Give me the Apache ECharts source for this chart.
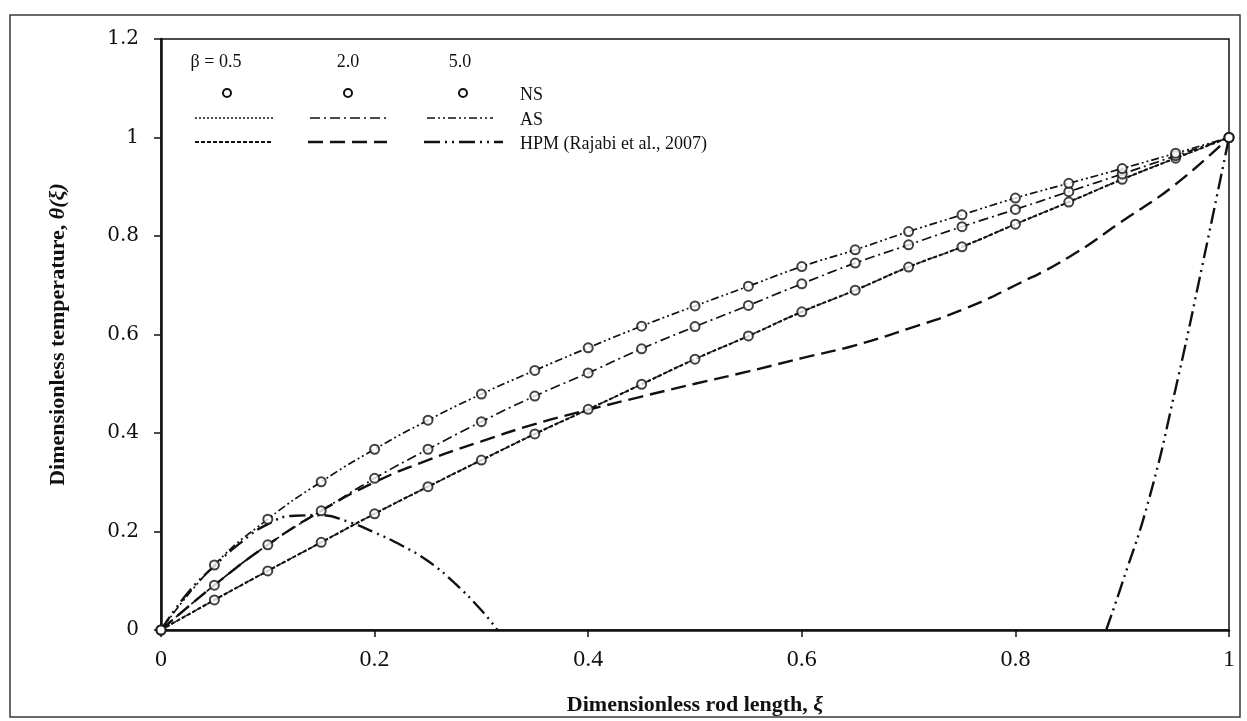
<!DOCTYPE html>
<html>
<head>
<meta charset="utf-8">
<script src="https://cdn.jsdelivr.net/npm/echarts@6/dist/echarts.min.js"></script>
<style>
  html, body { margin: 0; padding: 0; background: #ffffff; }
  #chart { width: 1247px; height: 721px; }
</style>
</head>
<body>
<div id="chart"></div>
<script>
// ---- data ----
const xi = [0, 0.05, 0.1, 0.15, 0.2, 0.25, 0.3, 0.35, 0.4, 0.45, 0.5, 0.55, 0.6, 0.65, 0.7, 0.75, 0.8, 0.85, 0.9, 0.95, 1.0];

// Numerical solution (NS), circles
const ns05 = [0, 0.061, 0.120, 0.178, 0.236, 0.291, 0.345, 0.398, 0.448, 0.499, 0.550, 0.597, 0.646, 0.690, 0.737, 0.778, 0.824, 0.869, 0.915, 0.958, 1.0];
const ns20 = [0, 0.091, 0.173, 0.242, 0.308, 0.367, 0.423, 0.475, 0.522, 0.571, 0.616, 0.659, 0.703, 0.745, 0.782, 0.819, 0.854, 0.890, 0.926, 0.963, 1.0];
const ns50 = [0, 0.132, 0.225, 0.301, 0.367, 0.426, 0.479, 0.527, 0.573, 0.617, 0.658, 0.698, 0.738, 0.772, 0.809, 0.843, 0.877, 0.907, 0.937, 0.968, 1.0];

// Analytical solution (AS)
const as05 = [0, 0.061, 0.120, 0.178, 0.236, 0.291, 0.345, 0.398, 0.448, 0.499, 0.550, 0.597, 0.646, 0.690, 0.737, 0.778, 0.824, 0.869, 0.915, 0.958, 1.0];
const as20 = [0, 0.091, 0.173, 0.242, 0.308, 0.367, 0.423, 0.475, 0.522, 0.571, 0.616, 0.659, 0.703, 0.745, 0.782, 0.819, 0.854, 0.890, 0.926, 0.963, 1.0];
const as50 = [0, 0.132, 0.225, 0.301, 0.367, 0.426, 0.479, 0.527, 0.573, 0.617, 0.658, 0.698, 0.738, 0.772, 0.809, 0.843, 0.877, 0.907, 0.937, 0.968, 1.0];

// HPM (Rajabi et al., 2007)
const hpm05 = [0, 0.061, 0.120, 0.178, 0.236, 0.291, 0.345, 0.398, 0.448, 0.499, 0.550, 0.597, 0.646, 0.690, 0.737, 0.778, 0.824, 0.869, 0.915, 0.958, 1.0];
const hpm20 = [0, 0.091, 0.173, 0.242, 0.300, 0.345, 0.383, 0.418, 0.447, 0.474, 0.500, 0.525, 0.552, 0.578, 0.612, 0.650, 0.700, 0.757, 0.830, 0.905, 1.0];
const hpm50xA = [0, 0.025, 0.05, 0.075, 0.1, 0.125, 0.15, 0.175, 0.2, 0.225, 0.25, 0.275, 0.3, 0.315];
const hpm50yA = [0, 0.075, 0.130, 0.178, 0.215, 0.232, 0.233, 0.220, 0.198, 0.172, 0.140, 0.095, 0.040, 0];
const hpm50xB = [0.885, 0.9, 0.925, 0.95, 0.975, 1.0];
const hpm50yB = [0, 0.095, 0.265, 0.490, 0.740, 1.0];

const xTicks = ['0', '0.2', '0.4', '0.6', '0.8', '1'];
const yTicks = ['0', '0.2', '0.4', '0.6', '0.8', '1', '1.2'];

const legendHeads = ['\u03b2 = 0.5', '2.0', '5.0'];
const legendRows = ['NS', 'AS', 'HPM (Rajabi et al., 2007)'];

// ---- build ----
const zip = (xs, ys) => xs.map((x, i) => [x, ys[i]]);
const INK = '#111111';
const SERIF = '"Liberation Serif", "Times New Roman", serif';

const asStyles = [
  { width: 1.4, type: [2, 2] },
  { width: 1.7, type: [10, 4, 2, 4] },
  { width: 1.7, type: [8, 3, 2, 3, 2, 3] }
];
const hpmStyles = [
  { width: 2.1, type: [4, 2] },
  { width: 2.4, type: [15, 7] },
  { width: 2.4, type: [16, 5, 2, 5, 2, 5] }
];

function lineSeries(name, data, st) {
  return {
    name: name, type: 'line', data: data, smooth: true, showSymbol: false, symbol: 'none',
    lineStyle: { color: INK, width: st.width, type: st.type }, z: 2, animation: false
  };
}

const series = [
  lineSeries('AS 0.5', zip(xi, as05), asStyles[0]),
  lineSeries('AS 2.0', zip(xi, as20), asStyles[1]),
  lineSeries('AS 5.0', zip(xi, as50), asStyles[2]),
  lineSeries('HPM 0.5', zip(xi, hpm05), hpmStyles[0]),
  lineSeries('HPM 2.0', zip(xi, hpm20), hpmStyles[1]),
  lineSeries('HPM 5.0 a', zip(hpm50xA, hpm50yA), hpmStyles[2]),
  lineSeries('HPM 5.0 b', zip(hpm50xB, hpm50yB), hpmStyles[2])
];
[ns05, ns20, ns50].forEach((arr, i) => {
  series.push({
    name: 'NS ' + legendHeads[i], type: 'scatter', data: zip(xi, arr),
    symbol: 'circle', symbolSize: 9,
    itemStyle: { color: '#ffffff', borderColor: INK, borderWidth: 2 }, z: 4, animation: false
  });
});

// legend drawn as a small table
const colX = [216, 348, 460];
const rowY = { head: 62, ns: 93, as: 118, hpm: 142 };
const asSeg = [[195, 273], [310, 387], [427, 493]];
const hpmSeg = [[195, 273], [308, 387], [424, 503]];
const graphics = [];
graphics.push({ type: 'rect', shape: { x: 10, y: 15, width: 1230, height: 702 },
  style: { fill: 'none', stroke: '#3a3a3a', lineWidth: 1.5 }, silent: true });
legendHeads.forEach((t, i) => graphics.push({ type: 'text', x: colX[i], y: rowY.head,
  style: { text: t, font: '18px ' + SERIF, fill: INK, textAlign: 'center', textVerticalAlign: 'middle' } }));
[227, 348, 463].forEach(cx => graphics.push({ type: 'circle', shape: { cx: cx, cy: rowY.ns, r: 4 },
  style: { fill: '#fff', stroke: INK, lineWidth: 2 } }));
asSeg.forEach((s, i) => graphics.push({ type: 'line', shape: { x1: s[0], y1: rowY.as, x2: s[1], y2: rowY.as },
  style: { stroke: INK, lineWidth: asStyles[i].width, lineDash: asStyles[i].type } }));
hpmSeg.forEach((s, i) => graphics.push({ type: 'line', shape: { x1: s[0], y1: rowY.hpm, x2: s[1], y2: rowY.hpm },
  style: { stroke: INK, lineWidth: hpmStyles[i].width, lineDash: hpmStyles[i].type } }));
[['ns', 0], ['as', 1], ['hpm', 2]].forEach(([k, i]) => graphics.push({ type: 'text', x: 520, y: rowY[k] + 2,
  style: { text: legendRows[i], font: '18px ' + SERIF, fill: INK, textAlign: 'left', textVerticalAlign: 'middle' } }));

const chart = echarts.init(document.getElementById('chart'), null, { renderer: 'canvas' });
chart.setOption({
  animation: false,
  backgroundColor: '#ffffff',
  grid: { left: 161, right: 18, top: 39, bottom: 91, show: true, borderColor: INK, borderWidth: 1.5, backgroundColor: 'transparent' },
  xAxis: {
    type: 'value', min: 0, max: 1, interval: 0.2,
    axisLine: { show: true, onZero: false, lineStyle: { color: INK, width: 2.5 } },
    axisTick: { show: true, inside: false, length: 7, lineStyle: { color: INK, width: 1.5 } },
    splitLine: { show: false },
    axisLabel: { margin: 18, color: INK, fontFamily: SERIF, fontSize: 24,
      formatter: v => xTicks[Math.round(v / 0.2)] },
    name: '{b|Dimensionless rod length, }{bi|\u03be}',
    nameLocation: 'middle', nameGap: 64,
    nameTextStyle: { rich: {
      b: { fontFamily: SERIF, fontWeight: 'bold', fontSize: 22, color: INK },
      bi: { fontFamily: SERIF, fontWeight: 'bold', fontStyle: 'italic', fontSize: 22, color: INK } } }
  },
  yAxis: {
    type: 'value', min: 0, max: 1.2, interval: 0.2,
    axisLine: { show: true, onZero: false, lineStyle: { color: INK, width: 2.5 } },
    axisTick: { show: true, inside: false, length: 7, lineStyle: { color: INK, width: 1.5 } },
    splitLine: { show: false },
    axisLabel: { margin: 22, color: INK, fontFamily: '"DejaVu Serif", serif', fontSize: 20,
      formatter: v => yTicks[Math.round(v / 0.2)] },
    name: '{b|Dimensionless temperature, }{bi|\u03b8(\u03be)}',
    nameLocation: 'middle', nameGap: 92, nameRotate: 90,
    nameTextStyle: { rich: {
      b: { fontFamily: SERIF, fontWeight: 'bold', fontSize: 22, color: INK },
      bi: { fontFamily: SERIF, fontWeight: 'bold', fontStyle: 'italic', fontSize: 22, color: INK } } }
  },
  graphic: graphics,
  series: series
});
</script>
</body>
</html>
